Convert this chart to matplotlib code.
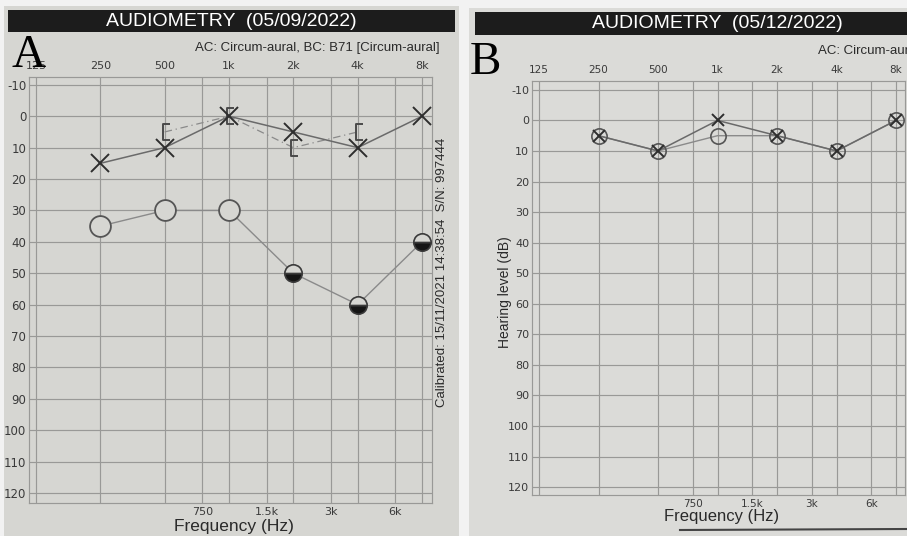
import matplotlib
matplotlib.use("Agg")
import matplotlib.pyplot as plt
from matplotlib.patches import Rectangle
from matplotlib.path import Path
import numpy as np

plt.rcParams["axes.unicode_minus"] = False

# audiogram data (frequency in Hz, hearing level in dB)
freqs = [250, 500, 1000, 2000, 4000, 8000]
octave_ticks = [125, 250, 500, 1000, 2000, 4000, 8000]
octave_labels = ["125", "250", "500", "1k", "2k", "4k", "8k"]
half_ticks = [750, 1500, 3000, 6000]
half_labels = ["750", "1.5k", "3k", "6k"]
db_ticks = list(range(-10, 130, 10))

# panel A (05/09/2022)
a_left_ac = [15, 10, 0, 5, 10, 0]          # X
a_right_ac = [35, 30, 30, 50, 60, 40]      # O (half filled from 2k)
a_half_filled = [False, False, False, True, True, True]
a_bc_freqs = [500, 1000, 2000, 4000]
a_bc = [5, 0, 10, 5]                       # [ brackets

# panel B (05/12/2022)
b_left_ac = [5, 10, 0, 5, 10, 0]
b_right_ac = [5, 10, 5, 5, 10, 0]

W, H = 907, 536
PAPER = "#d6d6d2"
PAPER_B = "#dbdbd8"
INK = "#2e2e2e"
GRID = "#999997"

fig = plt.figure(figsize=(W / 100, H / 100), dpi=100)
fig.patch.set_facecolor("#f2f2f2")


def fx(x):
    return x / W


def fy(y):
    return 1 - y / H


def rect(x0, y0, x1, y1, color, z=0):
    fig.add_artist(Rectangle((fx(x0), fy(y1)), fx(x1 - x0), (y1 - y0) / H,
                             transform=fig.transFigure, facecolor=color,
                             edgecolor="none", zorder=z))


# paper sheets and title bars
rect(4, 6, 459, 536, PAPER)
rect(469, 8, 907, 536, PAPER_B)
rect(8, 10, 455, 32, "#1c1c1c", 1)
rect(475, 12, 907, 35, "#1c1c1c", 1)

# bracket marker "[" with its stroke just left of the frequency line
bracket = Path([(0.6, 1), (-0.3, 1), (-0.3, -1), (0.6, -1)],
               [Path.MOVETO, Path.LINETO, Path.LINETO, Path.LINETO])


def make_axes(box, ylim, xpad, bg, tick_fs):
    left, top, right, bottom = box
    ax = fig.add_axes([fx(left), fy(bottom), fx(right - left), (bottom - top) / H])
    ax.set_facecolor(bg)
    ax.set_xscale("log", base=2)
    ax.set_xlim(125 * 2 ** (-xpad[0]), 8000 * 2 ** xpad[1])
    ax.set_ylim(*ylim)
    ax.set_xticks(octave_ticks, octave_labels)
    ax.set_xticks(half_ticks, half_labels, minor=True)
    ax.set_yticks(db_ticks)
    ax.tick_params(which="both", length=0, colors="#3a3a3a")
    ax.tick_params(axis="x", which="major", labeltop=True, labelbottom=False,
                   labelsize=tick_fs, pad=4)
    ax.tick_params(axis="x", which="minor", labeltop=False, labelbottom=True,
                   labelsize=tick_fs, pad=3)
    ax.tick_params(axis="y", labelsize=tick_fs + 0.5, pad=2)
    ax.grid(True, which="both", color=GRID, lw=0.85)
    for s in ax.spines.values():
        s.set_color(GRID)
        s.set_linewidth(0.85)
    ax.set_axisbelow(True)
    return ax


# ---------- panel A ----------
axA = make_axes((29, 77, 432, 503), (123.2, -12.5), (0.109, 0.155), PAPER, 8)
axA.plot(a_bc_freqs, a_bc, color="#8a8a8a", lw=0.9, ls=(0, (6, 3, 1, 3)), zorder=2)
axA.plot(a_bc_freqs, a_bc, ls="none", marker=bracket, ms=11, mew=1.4,
         mfc="none", mec="#4a4a4a", zorder=3)
axA.plot(freqs, a_left_ac, color="#6a6a6a", lw=1.1, zorder=2)
axA.plot(freqs, a_left_ac, ls="none", marker="x", ms=13, mew=1.4,
         color=INK, zorder=4)
axA.plot(freqs, a_right_ac, color="#8a8a8a", lw=1.0, zorder=2)
for f, v, half in zip(freqs, a_right_ac, a_half_filled):
    if half:
        axA.plot(f, v, marker="o", ms=12.5, fillstyle="bottom", mfc="#151515",
                 mfcalt=PAPER, mec="#3a3a3a", mew=1.2, zorder=4)
    else:
        axA.plot(f, v, marker="o", ms=15, mfc=PAPER, mec="#555555", mew=1.3,
                 zorder=4)

# ---------- panel B ----------
axB = make_axes((532, 81, 905, 495), (122.6, -12.9), (0.118, 0.151), PAPER_B, 7.5)
axB.plot(freqs, b_right_ac, color="#8a8a8a", lw=1.0, zorder=2)
axB.plot(freqs, b_left_ac, color="#6a6a6a", lw=1.1, zorder=2)
axB.plot(freqs, b_right_ac, ls="none", marker="o", ms=11, mfc="none",
         mec="#555555", mew=1.2, zorder=4)
axB.plot(freqs, b_left_ac, ls="none", marker="x", ms=9, mew=1.4,
         color=INK, zorder=5)

# ---------- texts ----------
sans = "Liberation Sans"
fig.text(fx(231), fy(21), "AUDIOMETRY  (05/09/2022)", color="white",
         fontsize=14, family=sans, ha="center", va="center", zorder=2)
fig.text(fx(717), fy(24), "AUDIOMETRY  (05/12/2022)", color="white",
         fontsize=14, family=sans, ha="center", va="center", zorder=2)
fig.text(fx(440), fy(48), "AC: Circum-aural, BC: B71 [Circum-aural]",
         color="#2a2a2a", fontsize=9.5, family=sans, ha="right", va="center")
fig.text(fx(818), fy(51), "AC: Circum-aural, BC: B71 [Circum-aural]",
         color="#2a2a2a", fontsize=9.5, family=sans, ha="left", va="center")
fig.text(fx(442), fy(272), "Calibrated: 15/11/2021 14:38:54  S/N: 997444",
         color="#2a2a2a", fontsize=9.5, family=sans, rotation=90,
         ha="center", va="center")
fig.text(fx(505), fy(292), "Hearing level (dB)", color="#2a2a2a",
         fontsize=10, family=sans, rotation=90, ha="center", va="center")
fig.text(fx(234), fy(527), "Frequency (Hz)", color="#2a2a2a",
         fontsize=12.5, family=sans, ha="center", va="center")
fig.text(fx(722), fy(517), "Frequency (Hz)", color="#2a2a2a",
         fontsize=12, family=sans, ha="center", va="center")
fig.text(fx(11), fy(67), "A", color="black", fontsize=34,
         family="Liberation Serif", ha="left", va="baseline", zorder=6)
fig.text(fx(470), fy(74), "B", color="black", fontsize=34,
         family="Liberation Serif", ha="left", va="baseline", zorder=6)

# shadow at the bottom of sheet B
fig.add_artist(plt.Line2D([fx(680), fx(907)], [fy(530), fy(529)],
                          transform=fig.transFigure, color="#444444", lw=1.5))

fig.savefig("out.png", dpi=100, facecolor=fig.get_facecolor())
